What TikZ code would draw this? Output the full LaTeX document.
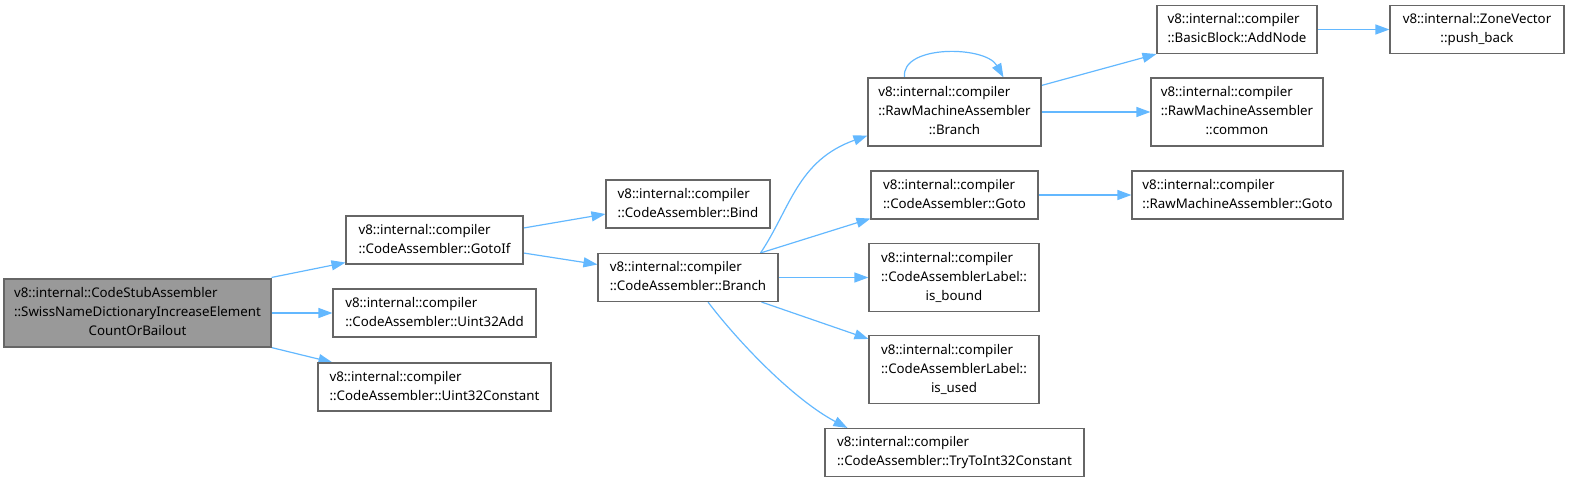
\documentclass[tikz,border=0pt]{standalone}
\usepackage{fontspec}
\setmainfont{Noto Sans}
\usepackage{xcolor}
\usetikzlibrary{arrows.meta,backgrounds}
\pgfdeclarelayer{edgelayer}
\pgfdeclarelayer{nodelayer}
\pgfsetlayers{background,edgelayer,nodelayer,main}
\definecolor{edgeblue}{RGB}{99,184,255}
\definecolor{boxgray}{RGB}{102,102,102}
\definecolor{curgray}{RGB}{153,153,153}
\tikzstyle{fn}=[shape=rectangle,draw=boxgray,fill=white,line width=1.1pt,inner sep=0pt,font=\fontsize{13.3}{19}\selectfont]
\tikzstyle{cur fn}=[fn,fill=curgray]
\tikzstyle{call}=[draw=edgeblue,line width=1.2pt,-{Triangle[length=14pt,width=10pt]}]
\newcommand{\fnlabel}[2]{\begin{tabular}{@{}l@{}}#1\\\multicolumn{1}{@{}c@{}}{#2}\end{tabular}}

\begin{document}
\begin{tikzpicture}[x=1pt,y=-1pt]
	\useasboundingbox (0,0) rectangle (1570,482);
	\begin{pgfonlayer}{nodelayer}
		\node [style=cur fn, minimum width=267pt, minimum height=68pt] (1) at (137.5, 313) {\fnlabel{v8::internal::CodeStubAssembler\\::SwissNameDictionaryIncreaseElement}{CountOrBailout}};
		\node [style=fn, minimum width=177pt, minimum height=48pt] (2) at (434.5, 240) {\fnlabel{v8::internal::compiler}{::CodeAssembler::GotoIf}};
		\node [style=fn, minimum width=203pt, minimum height=48pt] (3) at (434.5, 313) {\fnlabel{v8::internal::compiler}{::CodeAssembler::Uint32Add}};
		\node [style=fn, minimum width=233pt, minimum height=48pt] (4) at (434.5, 387) {\fnlabel{v8::internal::compiler}{::CodeAssembler::Uint32Constant}};
		\node [style=fn, minimum width=164pt, minimum height=48pt] (5) at (688, 204) {\fnlabel{v8::internal::compiler}{::CodeAssembler::Bind}};
		\node [style=fn, minimum width=180pt, minimum height=48pt] (6) at (688, 277.5) {\fnlabel{v8::internal::compiler}{::CodeAssembler::Branch}};
		\node [style=fn, minimum width=173pt, minimum height=68pt] (7) at (954.5, 112) {\fnlabel{v8::internal::compiler\\::RawMachineAssembler}{::Branch}};
		\node [style=fn, minimum width=167pt, minimum height=48pt] (8) at (954.5, 195) {\fnlabel{v8::internal::compiler}{::CodeAssembler::Goto}};
		\node [style=fn, minimum width=170pt, minimum height=68pt] (9) at (954, 277.5) {\fnlabel{v8::internal::compiler\\::CodeAssemblerLabel::}{is\_bound}};
		\node [style=fn, minimum width=170pt, minimum height=68pt] (10) at (954, 369.5) {\fnlabel{v8::internal::compiler\\::CodeAssemblerLabel::}{is\_used}};
		\node [style=fn, minimum width=259pt, minimum height=48pt] (11) at (954.5, 452.5) {\fnlabel{v8::internal::compiler}{::CodeAssembler::TryToInt32Constant}};
		\node [style=fn, minimum width=160pt, minimum height=48pt] (12) at (1237, 29.5) {\fnlabel{v8::internal::compiler}{::BasicBlock::AddNode}};
		\node [style=fn, minimum width=172pt, minimum height=68pt] (13) at (1237, 112) {\fnlabel{v8::internal::compiler\\::RawMachineAssembler}{::common}};
		\node [style=fn, minimum width=211pt, minimum height=48pt] (14) at (1237.5, 195) {\fnlabel{v8::internal::compiler}{::RawMachineAssembler::Goto}};
		\node [style=fn, minimum width=174pt, minimum height=48pt] (15) at (1477, 29.5) {\fnlabel{v8::internal::ZoneVector}{::push\_back}};
	\end{pgfonlayer}
	\begin{pgfonlayer}{edgelayer}
		\draw [style=call] ([yshift=1pt]1.north east) to ([yshift=2pt]2.south west);
		\draw [style=call] (1.east) to (3.west);
		\draw [style=call] (1.south east) to ([xshift=15pt]4.north west);
		\draw [style=call] ([yshift=12pt]2.east) to ([yshift=-10pt]5.west);
		\draw [style=call] ([yshift=-13pt]2.east) to ([yshift=13pt]6.west);
		\draw [style=call] ([xshift=-18pt]6.north east) .. controls +(30,-45) and +(-70,25) .. ([yshift=11pt]7.south west);
		\draw [style=call] ([xshift=-18pt]6.north east) to ([yshift=1pt]8.south west);
		\draw [style=call] (6.east) to (9.west);
		\draw [style=call] ([xshift=-17pt]6.south east) to ([yshift=-4pt]9.south west |- 10.north);
		\draw [style=call] ([xshift=20pt]6.south) .. controls +(32,42) and +(-53,-28) .. ([xshift=23pt]11.north west);
		\draw [style=call] ([yshift=-8pt]7.north east) to (12.south west);
		\draw [style=call] (7.east) to (13.west);
		\draw [style=call] ([xshift=-50pt]7.north) .. controls +(-4,-33) and +(-18,-32) .. ([xshift=49pt]7.north);
		\draw [style=call] (8.east) to (14.west);
		\draw [style=call] (12.east) to (15.west);
	\end{pgfonlayer}
\end{tikzpicture}
\end{document}
